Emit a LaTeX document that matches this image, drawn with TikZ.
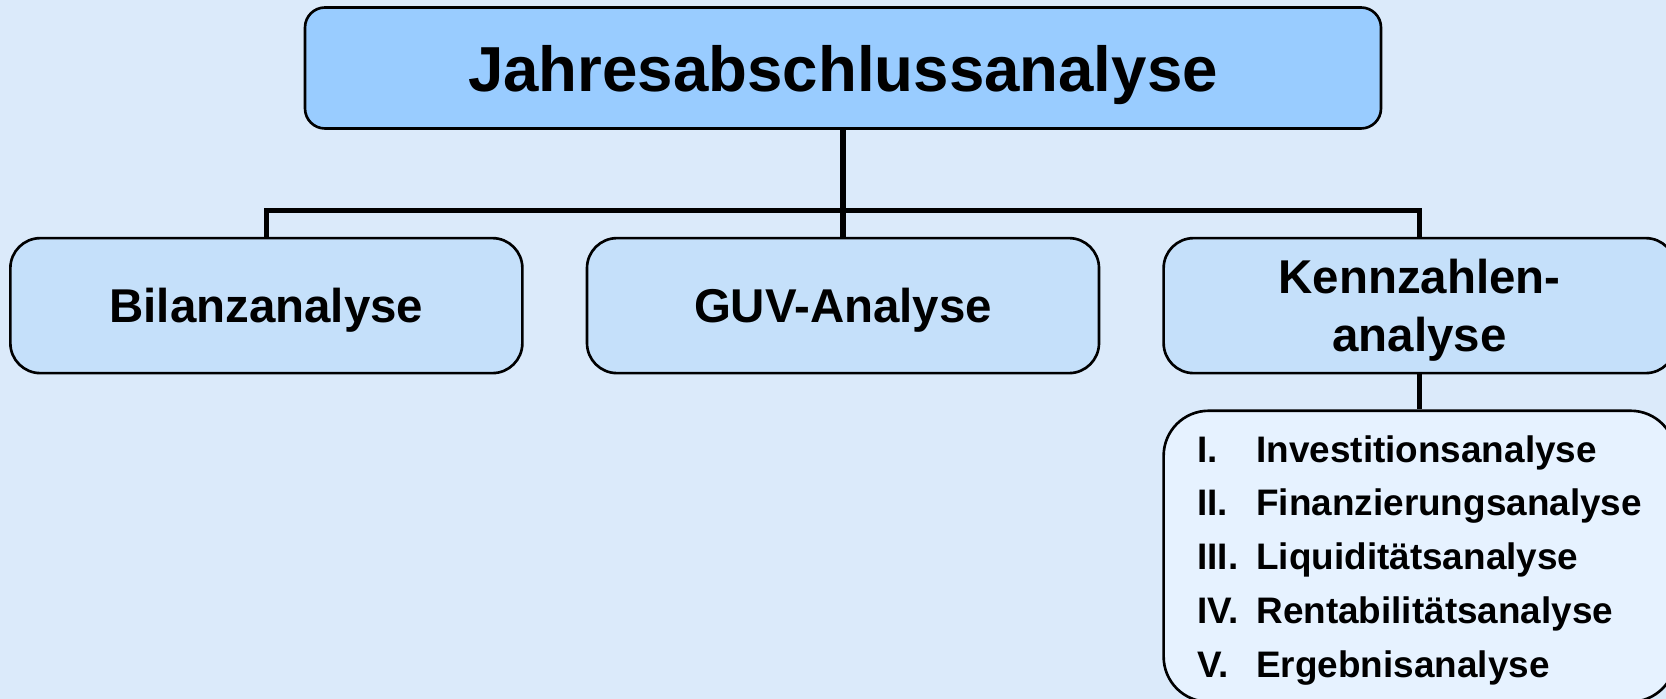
\documentclass[tikz,border=0pt]{standalone}
\usepackage{fontspec}
\setmainfont{Liberation Sans}
\usetikzlibrary{
  positioning,  % Function "of" (e.g. [below=of x])
  calc,         % Calculations $...$
}
\definecolor{bgblue}{RGB}{219,234,250}
\definecolor{topblue}{RGB}{153,204,255}
\definecolor{midblue}{RGB}{197,224,250}
\definecolor{lowblue}{RGB}{230,242,255}
\def\myboxw{5.12cm}
\def\myboxh{1.35cm}
\def\mygap{0.62cm}
\newcommand{\lstitem}[2]{\makebox[0.59cm][l]{#1}#2}
\tikzset{
  font=\bfseries,
  my box/.style={
    draw,
    line width=0.75pt,
    rectangle,
    rounded corners=0.3cm,
    fill=midblue,
    minimum width=\myboxw,
    minimum height=\myboxh,
    inner sep=0mm,
    text depth=0pt,
    align=center,
    font=\bfseries\fontsize{13.5}{16.4}\selectfont
  },
  my root/.style={
    my box,
    fill=topblue,
    rounded corners=0.2cm,
    minimum width=10.76cm,
    minimum height=1.21cm,
    font=\bfseries\fontsize{18.1}{21.7}\selectfont
  },
  my list/.style={
    my box,
    fill=lowblue,
    rounded corners=0.45cm,
    minimum height=2.91cm,
    align=left,
    font=\bfseries\fontsize{10.5}{15.3}\selectfont
  },
  conn/.style={
    line width=1.5pt
  }
}

\begin{document}
\begin{tikzpicture}
\useasboundingbox (0,0) rectangle (16.66,6.99);
\clip (0,0) rectangle (16.66,6.99);
\fill[bgblue] (0,0) rectangle (16.66,6.99);
\node[my root] (root) at (8.43,6.31) {Jahresabschlussanalyse};
\node[my box]  (guv)  [below=1.07cm of root] {GUV-Analyse};
\node[my box]  (bil)  [left=\mygap of guv]   {Bilanzanalyse};
\node[my box]  (kza)  [right=\mygap of guv]  {Kennzahlen-\\analyse};
\node[my list] (list) [below=0.35cm of kza]  {%
  \lstitem{I.}{Investitionsanalyse}\\
  \lstitem{II.}{Finanzierungsanalyse}\\
  \lstitem{III.}{Liquiditätsanalyse}\\
  \lstitem{IV.}{Rentabilitätsanalyse}\\
  \lstitem{V.}{Ergebnisanalyse}};
\coordinate (bus) at ($(root.south)+(0,-0.81)$);
\draw[conn] (root.south) -- (guv.north);
\draw[conn] (bil.north) |- (bus) -| (kza.north);
\draw[conn] (kza.south) -- (list.north);
\end{tikzpicture}
\end{document}
